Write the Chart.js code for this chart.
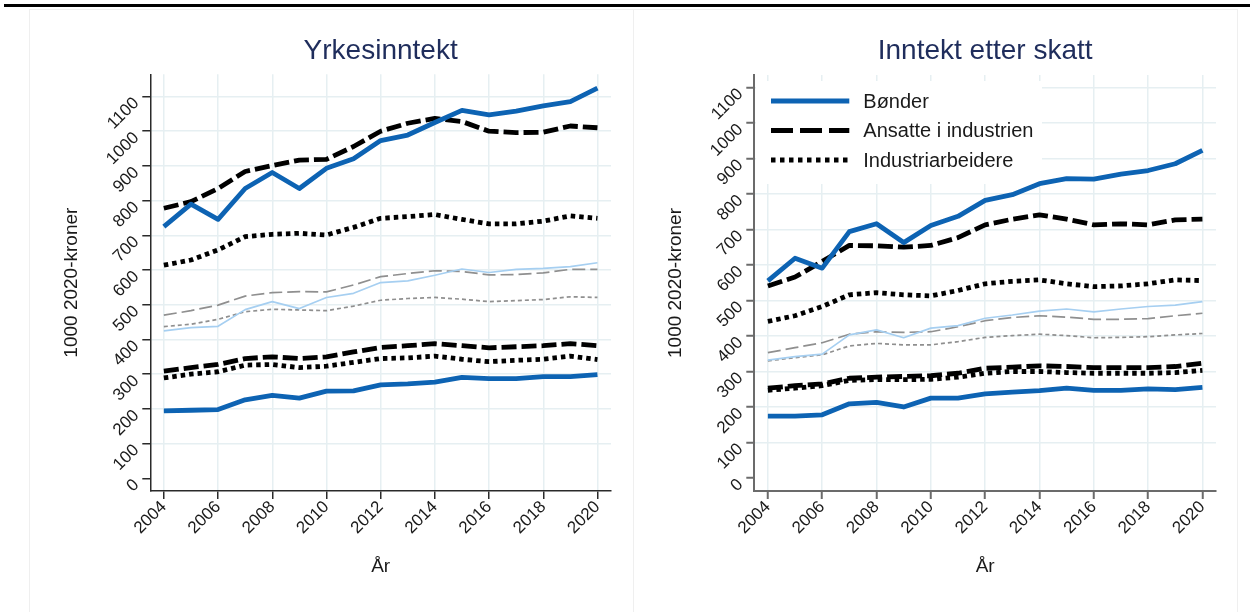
<!DOCTYPE html>
<html>
<head>
<meta charset="utf-8">
<script src="https://cdn.jsdelivr.net/npm/chart.js@4.4.1/dist/chart.umd.min.js"></script>
<style>
html,body{margin:0;padding:0;background:#fff;width:1250px;height:612px;overflow:hidden;}
#topline{position:absolute;left:4px;top:4px;width:1246px;height:3px;background:#000;}
.panel{position:absolute;top:9px;height:700px;border-top:1px solid #efefef;}
#p1{left:29px;width:603px;border-left:1px solid #efefef;border-right:1px solid #efefef;}
#p2{left:633px;width:604px;border-right:1px solid #efefef;}
canvas{position:absolute;top:0;}
#c1{left:0;}
#c2{left:632px;}
</style>
</head>
<body>
<div id="topline"></div>
<div class="panel" id="p1"></div>
<div class="panel" id="p2"></div>
<canvas id="c1" width="632" height="612"></canvas>
<canvas id="c2" width="618" height="612"></canvas>
<script>
// ---------- data ----------
const years = [2004,2005,2006,2007,2008,2009,2010,2011,2012,2013,2014,2015,2016,2017,2018,2019,2020];
const xTicks = [2004,2006,2008,2010,2012,2014,2016,2018,2020];
const yTicks = [0,100,200,300,400,500,600,700,800,900,1000,1100];
const seriesNames = ['Bønder','Ansatte i industrien','Industriarbeidere'];
const titles = ['Yrkesinntekt','Inntekt etter skatt'];

// Yrkesinntekt
const yrkBonder      = [725,790,746,835,881,835,893,921,973,989,1025,1060,1047,1058,1073,1085,1124];
const yrkAnsatte     = [778,797,835,884,901,917,919,956,1000,1023,1037,1028,1000,996,997,1015,1010];
const yrkArbeidere   = [614,629,658,696,703,706,701,723,749,754,760,746,733,733,741,756,749];
const yrkBonderMid   = [425,434,438,486,509,489,521,533,564,569,585,603,593,602,605,610,621];
const yrkAnsatteMid  = [470,483,499,525,535,538,537,557,581,590,598,596,586,587,592,602,602];
const yrkArbeidereMid= [437,444,458,480,487,485,483,496,513,518,521,516,509,512,515,523,521];
const yrkBonderLow   = [194,196,198,226,239,231,251,252,269,272,277,291,287,287,293,293,299];
const yrkAnsatteLow  = [309,319,328,345,350,345,350,364,377,382,388,382,376,379,382,388,382];
const yrkArbeidereLow= [289,300,307,326,328,319,323,334,345,347,352,343,336,340,343,352,342];

// Inntekt etter skatt
const iesBonder      = [555,619,591,694,716,663,711,737,782,798,829,843,842,856,866,885,923];
const iesAnsatte     = [541,566,610,655,654,650,655,677,713,729,741,729,713,716,713,727,729];
const iesArbeidere   = [441,457,483,516,522,516,513,528,547,554,558,547,539,541,547,558,556];
const iesBonderMid   = [332,342,349,403,417,395,422,429,450,459,470,476,468,476,483,487,497];
const iesAnsatteMid  = [353,367,381,405,412,410,412,426,443,452,457,453,447,447,449,457,464];
const iesArbeidereMid= [330,339,347,372,379,375,375,384,396,401,405,401,395,396,398,403,407];
const iesBonderLow   = [174,174,178,209,213,200,225,225,237,242,246,253,247,247,251,249,255];
const iesAnsatteLow  = [253,260,265,281,284,286,288,295,309,312,316,314,311,311,311,314,323];
const iesArbeidereLow= [247,253,260,275,277,277,278,284,295,300,300,297,295,295,295,297,303];

// ---------- styles ----------
const FONT = "'Liberation Sans', Arial, Helvetica, sans-serif";
const TXT = '#1a1a1a';
const GRID = '#e6eff2';
const BLUE = '#0d63b3';
const LBLUE = '#a6cff1';
const GREY = '#8f8f8f';

const toXY = vals => years.map((yr,i)=>({x:yr,y:vals[i]}));

function buildDatasets(s){
  const thick = 4.8, thin = 1.7;
  const common = {pointRadius:0, pointHoverRadius:0, fill:false, tension:0, borderJoinStyle:'round', borderCapStyle:'butt'};
  return [
    {...common, label:seriesNames[0], data:toXY(s.b), borderColor:BLUE, borderWidth:thick},
    {...common, label:seriesNames[1], data:toXY(s.a), borderColor:'#000', borderWidth:thick, borderDash:[15,5]},
    {...common, label:seriesNames[2], data:toXY(s.w), borderColor:'#000', borderWidth:thick, borderDash:[4.5,4]},
    {...common, label:seriesNames[0]+' (lav)', data:toXY(s.bl), borderColor:BLUE, borderWidth:thick},
    {...common, label:seriesNames[1]+' (lav)', data:toXY(s.al), borderColor:'#000', borderWidth:thick, borderDash:[15,5]},
    {...common, label:seriesNames[2]+' (lav)', data:toXY(s.wl), borderColor:'#000', borderWidth:thick, borderDash:[4.5,4]},
    {...common, label:seriesNames[0]+' (midt)', data:toXY(s.bm), borderColor:LBLUE, borderWidth:thin},
    {...common, label:seriesNames[1]+' (midt)', data:toXY(s.am), borderColor:GREY, borderWidth:thin, borderDash:[13,5]},
    {...common, label:seriesNames[2]+' (midt)', data:toXY(s.wm), borderColor:GREY, borderWidth:thin, borderDash:[4,3]},
  ];
}

// legend drawn inside the plot area: white box hides the grid, then samples + labels
function makeLegendPlugin(cfg){
  return {
    id:'boxLegend',
    beforeDatasetsDraw(chart){
      const ctx = chart.ctx;
      ctx.save();
      ctx.fillStyle = '#fff';
      ctx.fillRect(cfg.box.x, cfg.box.y, cfg.box.w, cfg.box.h);
      ctx.restore();
    },
    afterDraw(chart){
      const ctx = chart.ctx;
      ctx.save();
      cfg.items.forEach(it=>{
        const ds = chart.data.datasets[it.index];
        ctx.beginPath();
        ctx.setLineDash(it.dash);
        ctx.lineCap = 'butt';
        ctx.lineWidth = ds.borderWidth;
        ctx.strokeStyle = ds.borderColor;
        ctx.moveTo(cfg.x0, it.y);
        ctx.lineTo(cfg.x1, it.y);
        ctx.stroke();
        ctx.setLineDash([]);
        ctx.fillStyle = TXT;
        ctx.font = '20px ' + FONT;
        ctx.textBaseline = 'middle';
        ctx.textAlign = 'left';
        ctx.fillText(ds.label, cfg.tx, it.y + 1);
      });
      ctx.restore();
    }
  };
}

function makeChart(id, p){
  const axisColor = p.axisColor;
  return new Chart(document.getElementById(id), {
    type:'line',
    data:{datasets: buildDatasets(p.series)},
    plugins: p.plugins || [],
    options:{
      responsive:false, animation:false, devicePixelRatio:1,
      layout:{padding:{left:0,right:p.padRight,top:0,bottom:0}},
      plugins:{
        legend:{display:false},
        tooltip:{enabled:false},
        title:{display:true, text:p.title, fullSize:false, color:'#1f2d5c',
               font:{family:FONT,size:28,weight:'normal',lineHeight:1.2},
               padding:{top:34.2,bottom:p.titlePadBottom}}
      },
      scales:{
        x:{
          type:'linear', min:2003.5, max:2020.5,
          afterBuildTicks:s=>{ s.ticks = xTicks.map(v=>({value:v})); },
          afterFit:s=>{ s.height = 121; },
          grid:{color:GRID, lineWidth:1.5, tickColor:axisColor, tickWidth:p.axisWidth, tickLength:8},
          border:{color:axisColor, width:p.axisWidth},
          ticks:{autoSkip:false, minRotation:45, maxRotation:45, padding:-2, labelOffset:0,
                 color:TXT, font:{family:FONT,size:17}, callback:v=>String(v)},
          title:{display:true, text:'År', color:TXT, font:{family:FONT,size:19}, padding:{top:0,bottom:33.6}}
        },
        y:{
          type:'linear', min:p.yMin, max:p.yMax,
          afterBuildTicks:s=>{ s.ticks = yTicks.map(v=>({value:v})); },
          afterFit:s=>{ s.width = p.yWidth; },
          grid:{color:c=> (c.tick && c.tick.value===0) ? 'rgba(0,0,0,0)' : GRID,
                lineWidth:1.5, tickColor:axisColor, tickWidth:p.axisWidth, tickLength:8},
          border:{color:axisColor, width:p.axisWidth},
          ticks:{autoSkip:false, minRotation:45, maxRotation:45, padding:6, labelOffset:4,
                 color:TXT, font:{family:FONT,size:17}, callback:v=>String(v)},
          title:{display:true, text:'1000 2020-kroner', color:TXT, font:{family:FONT,size:19},
                 padding:{top:p.yTitlePad,bottom:0}}
        }
      }
    }
  });
}

makeChart('c1', {
  title:titles[0],
  series:{b:yrkBonder,a:yrkAnsatte,w:yrkArbeidere,bm:yrkBonderMid,am:yrkAnsatteMid,wm:yrkArbeidereMid,bl:yrkBonderLow,al:yrkAnsatteLow,wl:yrkArbeidereLow},
  padRight:21, yWidth:150.3, yTitlePad:60.1, titlePadBottom:6.5,
  yMin:-36.6, yMax:1164, axisColor:'#2a2a2a', axisWidth:1.5
});

makeChart('c2', {
  title:titles[1],
  series:{b:iesBonder,a:iesAnsatte,w:iesArbeidere,bm:iesBonderMid,am:iesAnsatteMid,wm:iesArbeidereMid,bl:iesBonderLow,al:iesAnsatteLow,wl:iesArbeidereLow},
  padRight:34, yWidth:122.3, yTitlePad:32.1, titlePadBottom:7.2,
  yMin:-36.6, yMax:1135, axisColor:'#6b6b6b', axisWidth:2,
  plugins:[makeLegendPlugin({
    box:{x:124, y:81, w:286, h:103},
    x0:139, x1:217.3, tx:231.3,
    items:[{index:0,y:101,dash:[]},{index:1,y:130.5,dash:[22,7]},{index:2,y:160,dash:[4.5,4.5]}]
  })]
});
</script>
</body>
</html>
